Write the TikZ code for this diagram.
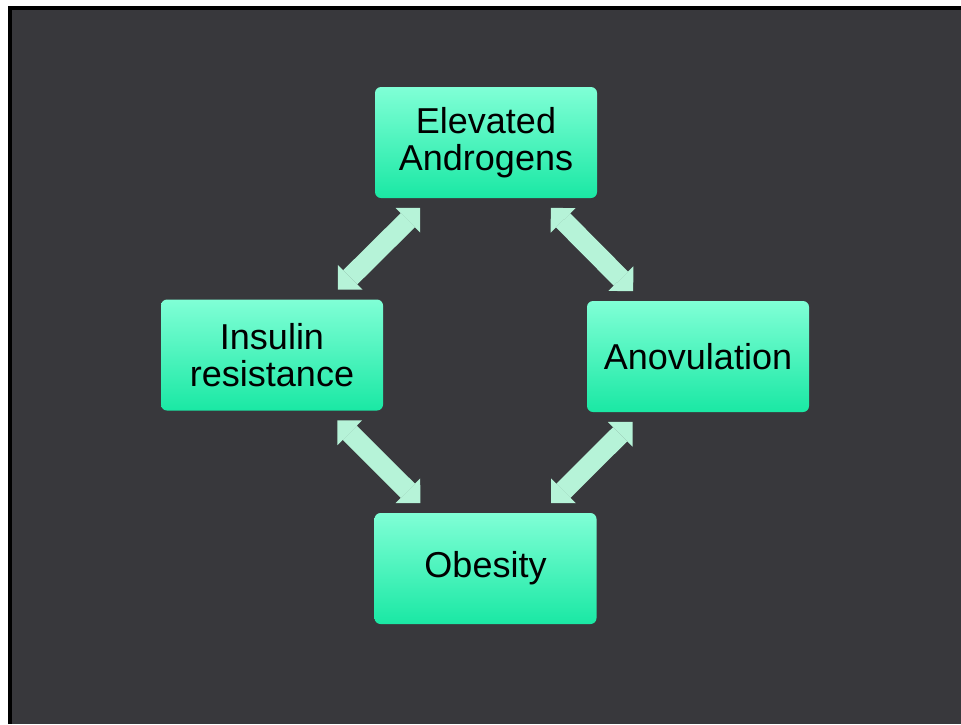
\documentclass[tikz,border=0pt]{standalone}
\usepackage{fontspec}
\setmainfont{Liberation Sans}
\usetikzlibrary{arrows.meta}
\definecolor{bgdark}{RGB}{56,56,60}
\definecolor{boxtop}{RGB}{128,255,214}
\definecolor{boxbot}{RGB}{26,232,164}
\definecolor{arrowfill}{RGB}{182,243,216}
\tikzset{
  box/.style={rectangle, rounded corners=6pt, minimum width=222pt, minimum height=111pt,
    inner sep=0pt, outer sep=0pt, align=center, text=black,
    top color=boxtop, bottom color=boxbot,
    font=\fontsize{36}{37.5}\selectfont},
  dblarrow/.style={draw=arrowfill, line width=20pt,
    {Triangle[length=17.5pt, width=35pt, line width=0pt]}-{Triangle[length=17.5pt, width=35pt, line width=0pt]},
    shorten <=14pt, shorten >=14pt}
}
\begin{document}
\begin{tikzpicture}[x=1pt, y=-1pt]
\useasboundingbox (0,0) rectangle (961,724);
\fill[white] (0,0) rectangle (961,724);
\fill[bgdark] (8,6) rectangle (961,724);
\draw[black, line width=4pt] (10,724) -- (10,8) -- (961,8);

\node[box] (EA) at (486,142.5) {Elevated\\Androgens};
\node[box] (IR) at (272,355) {Insulin\\resistance};
\node[box] (AN) at (698,356.5) {Anovulation};
\node[box] (OB) at (485.5,568.5) {Obesity};

\draw[dblarrow] (IR) -- (EA);
\draw[dblarrow] (EA) -- (AN);
\draw[dblarrow] (IR) -- (OB);
\draw[dblarrow] (AN) -- (OB);
\end{tikzpicture}
\end{document}
